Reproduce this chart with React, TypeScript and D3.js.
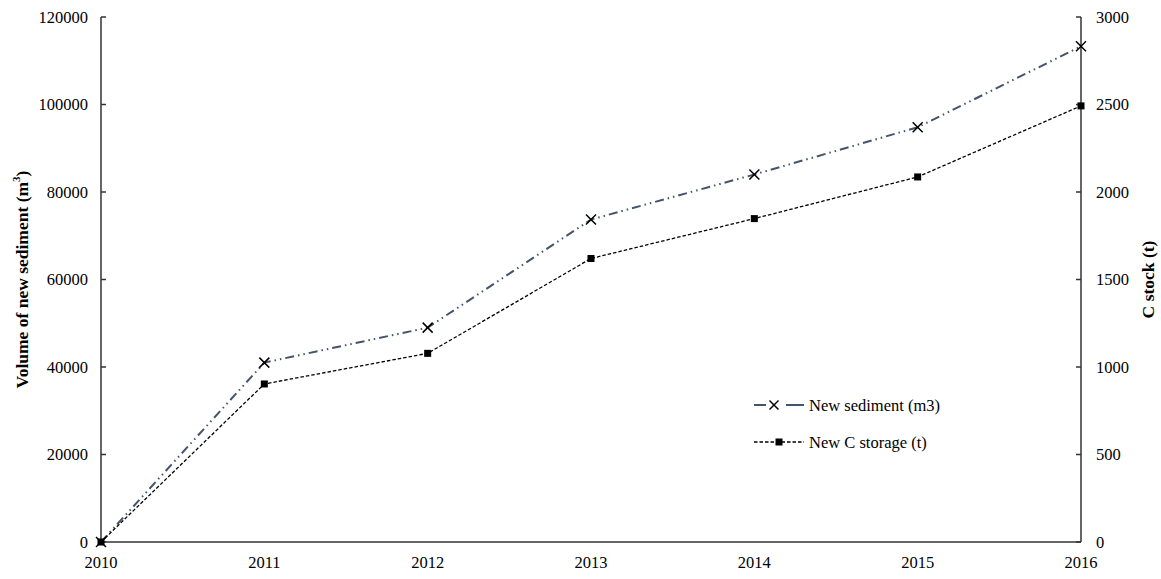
import React from "react";
import * as d3 from "d3";

const years = [2010, 2011, 2012, 2013, 2014, 2015, 2016];
const sediment = [0, 41000, 49000, 73700, 84000, 94800, 113300];
const cStorage = [0, 903, 1078, 1620, 1848, 2086, 2492];
const leftTicks = [0, 20000, 40000, 60000, 80000, 100000, 120000];
const rightTicks = [0, 500, 1000, 1500, 2000, 2500, 3000];

const W = 1161;
const H = 579;
const M = { left: 101, right: 1081, top: 17, bottom: 542 };
const FONT = "'Liberation Serif', 'Times New Roman', serif";
const SED_COLOR = "#44546A";
const AXIS = "#333";

export default function App() {
  const x = d3.scaleLinear().domain([2010, 2016]).range([M.left, M.right]);
  const yL = d3.scaleLinear().domain([0, 120000]).range([M.bottom, M.top]);
  const yR = d3.scaleLinear().domain([0, 3000]).range([M.bottom, M.top]);

  const sedLine = d3
    .line<number>()
    .x((_, i) => x(years[i]))
    .y((d) => yL(d));
  const cLine = d3
    .line<number>()
    .x((_, i) => x(years[i]))
    .y((d) => yR(d));

  const xMark = (cx: number, cy: number, s: number, key: string) => (
    <g key={key} stroke="#000" strokeWidth={1.5}>
      <line x1={cx - s} y1={cy - s} x2={cx + s} y2={cy + s} />
      <line x1={cx - s} y1={cy + s} x2={cx + s} y2={cy - s} />
    </g>
  );
  const sq = (cx: number, cy: number, s: number, key: string) => (
    <rect key={key} x={cx - s} y={cy - s} width={2 * s} height={2 * s} fill="#000" />
  );

  const sedDash = "9,4,1.5,4,1.5,4";
  const cDash = "3.5,2";

  return (
    <svg
      width={W}
      height={H}
      style={{ position: "absolute", left: 0, top: 0, background: "#fff" }}
      fontFamily={FONT}
    >
      {/* axes */}
      <line x1={M.left} y1={M.top} x2={M.left} y2={M.bottom} stroke={AXIS} strokeWidth={1.5} />
      <line x1={M.right} y1={M.top} x2={M.right} y2={M.bottom} stroke={AXIS} strokeWidth={1.5} />
      <line x1={M.left} y1={M.bottom} x2={M.right} y2={M.bottom} stroke={AXIS} strokeWidth={1.5} />

      {leftTicks.map((t) => (
        <g key={"l" + t}>
          <line x1={M.left} x2={M.left + 5} y1={yL(t)} y2={yL(t)} stroke={AXIS} strokeWidth={1.5} />
          <text x={88} y={yL(t)} textAnchor="end" dominantBaseline="central" fontSize={16.5} fill="#000">
            {t}
          </text>
        </g>
      ))}
      {rightTicks.map((t) => (
        <g key={"r" + t}>
          <line x1={M.right - 5} x2={M.right} y1={yR(t)} y2={yR(t)} stroke={AXIS} strokeWidth={1.5} />
          <text x={1096} y={yR(t)} textAnchor="start" dominantBaseline="central" fontSize={16.5} fill="#000">
            {t}
          </text>
        </g>
      ))}
      {years.map((yv) => (
        <text key={"x" + yv} x={x(yv)} y={562} textAnchor="middle" dominantBaseline="central" fontSize={16.5} fill="#000">
          {yv}
        </text>
      ))}

      {/* axis titles */}
      <text
        transform={`translate(22, ${(M.top + M.bottom) / 2}) rotate(-90)`}
        textAnchor="middle"
        dominantBaseline="central"
        fontSize={17.5}
        fontWeight="bold"
        fill="#000"
      >
        Volume of new sediment (m
        <tspan baselineShift="super" fontSize={11}>3</tspan>)
      </text>
      <text
        transform={`translate(1148, ${(M.top + M.bottom) / 2}) rotate(-90)`}
        textAnchor="middle"
        dominantBaseline="central"
        fontSize={17.5}
        fontWeight="bold"
        fill="#000"
      >
        C stock (t)
      </text>

      {/* lines */}
      <path d={sedLine(sediment) || ""} fill="none" stroke={SED_COLOR} strokeWidth={2} strokeDasharray={sedDash} />
      <path d={cLine(cStorage) || ""} fill="none" stroke="#000" strokeWidth={1.3} strokeDasharray={cDash} />
      {sediment.map((v, i) => xMark(x(years[i]), yL(v), 5, "sx" + i))}
      {cStorage.map((v, i) => sq(x(years[i]), yR(v), 3.5, "cs" + i))}

      {/* legend */}
      <g>
        <line x1={754} x2={804} y1={405} y2={405} stroke={SED_COLOR} strokeWidth={2} strokeDasharray="12,20,18" />
        {xMark(774, 405, 4.5, "lx")}
        <text x={809} y={405} dominantBaseline="central" fontSize={16.5} fill="#000">
          New sediment (m3)
        </text>
        <line x1={754} x2={804} y1={442} y2={442} stroke="#000" strokeWidth={1.3} strokeDasharray={cDash} />
        {sq(779, 442, 3.5, "ls")}
        <text x={809} y={442} dominantBaseline="central" fontSize={16.5} fill="#000">
          New C storage (t)
        </text>
      </g>
    </svg>
  );
}
